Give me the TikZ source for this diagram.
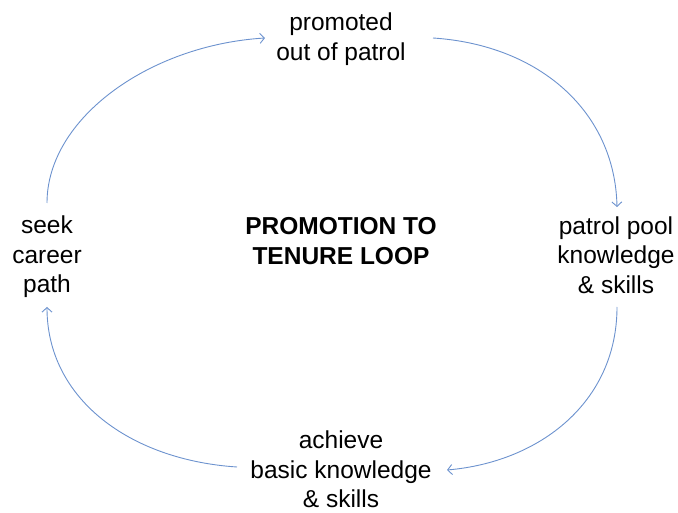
\documentclass[tikz,border=0pt]{standalone}
\usepackage{fontspec}
\setmainfont{Liberation Sans}
\usetikzlibrary{arrows.meta}
\definecolor{loopblue}{RGB}{108,146,206}
\tikzset{
  lbl/.style={align=center, inner sep=0pt, font=\fontsize{24.5}{29.5}\selectfont},
  ttl/.style={lbl, font=\fontsize{24.5}{29.5}\selectfont\bfseries},
  conn/.style={draw=loopblue, line width=0.9pt, -{Straight Barb[length=4.5pt,width=10pt]}}
}
\begin{document}
\begin{tikzpicture}[x=1pt,y=1pt]
\useasboundingbox (0,0) rectangle (678,512);
\node[lbl] (T) at (341,473) {promoted\\out of patrol};
\node[lbl] (R) at (616,257) {patrol pool\\knowledge\\\& skills};
\node[lbl] (B) at (341,42.5) {achieve\\basic knowledge\\\& skills};
\node[lbl] (L) at (47,255) {seek\\career\\path};
\node[ttl] (C) at (341,271) {PROMOTION TO\\TENURE LOOP};
\draw[conn] ([yshift=54pt]L.center) .. controls +(0,85) and +(-115,-7) .. ([xshift=-76pt,yshift=1pt]T.center);
\draw[conn] ([xshift=92pt,yshift=1pt]T.center) .. controls +(107,-7) and +(-2,95) .. ([xshift=1pt,yshift=48pt]R.center);
\draw[conn] ([xshift=1pt,yshift=-52pt]R.center) .. controls +(0,-95) and +(93,8) .. ([xshift=106pt,yshift=-0.5pt]B.center);
\draw[conn] ([xshift=-104pt,yshift=2.5pt]B.center) .. controls +(-107,7) and +(0,-92) .. ([yshift=-50pt]L.center);
\end{tikzpicture}
\end{document}
